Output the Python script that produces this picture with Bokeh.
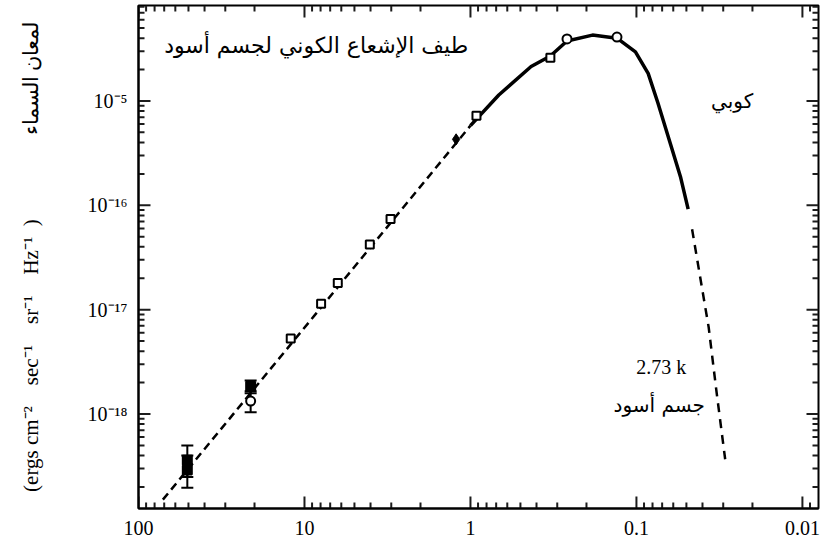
from bokeh.plotting import figure
from bokeh.models import (Range1d, FixedTicker, Label, Whisker,
                          ColumnDataSource, TeeHead)
from bokeh.embed import file_html
from bokeh.resources import INLINE

# ---- tick values and labels ----
x_ticks = [100, 10, 1, 0.1, 0.01]
x_labels = ["100", "10", "1", "0.1", "0.01"]
y_ticks = [1e-18, 1e-17, 1e-16, 1e-15]
y_labels = ["10⁻¹⁸", "10⁻¹⁷", "10⁻¹⁶", "10⁻⁵"]

# ---- texts ----
title_text = "طيف الإشعاع الكوني لجسم أسود"
cobe_text = "كوبي"
temp_text = "2.73 k"
bb_text = "جسم أسود"
ylabel_en = "(ergs cm⁻²\u2003sec⁻¹\u2003sr⁻¹\u2003Hz⁻¹\u2002)"
ylabel_ar = "لمعان السماء"

# ---- data (wavelength cm, brightness) ----
rj_x = [71.3, 8.5, 1.0]
rj_y = [1.51e-19, 9.2e-18, 5.8e-16]

cobe_x = [1.0, 0.675, 0.431, 0.33, 0.262, 0.184, 0.131, 0.1014, 0.085, 0.0743, 0.0623, 0.0543, 0.0488]
cobe_y = [5.8e-16, 1.14e-15, 2.14e-15, 2.7e-15, 3.76e-15, 4.28e-15, 4.0e-15, 2.96e-15, 1.84e-15, 9.6e-16, 3.85e-16, 1.88e-16, 9.2e-17]

wien_x = [0.0462, 0.0415, 0.0367, 0.033, 0.0292]
wien_y = [5.9e-17, 2.14e-17, 6.76e-18, 1.68e-18, 3.68e-19]

sq_x = [12.1, 7.94, 6.3, 4.04, 3.03, 0.92, 0.33]
sq_y = [5.3e-18, 1.14e-17, 1.8e-17, 4.2e-17, 7.4e-17, 7.2e-16, 2.6e-15]

fill_x = [1.22]
fill_y = [4.29e-16]

circ_x = [0.262, 0.131]
circ_y = [3.93e-15, 4.1e-15]

err_x = [50.8, 50.8, 21.1, 21.1]
err_y = [3.6e-19, 2.9e-19, 1.84e-18, 1.33e-18]
err_lo = [2.49e-19, 1.96e-19, 1.58e-18, 1.04e-18]
err_hi = [5.0e-19, 4.0e-19, 2.09e-18, 1.65e-18]
err_marker = ["square", "square", "square", "circle"]
err_fill = ["black", "black", "black", "white"]

# ---- axis extents ----
X_LEFT, X_RIGHT = 100, 0.008
Y_BOTTOM, Y_TOP = 10 ** -18.906, 10 ** -14.085

W, H = 821, 539
BL, BR, BT, BB = 138, 3, 5, 31
p = figure(width=W, height=H, x_axis_type="log", y_axis_type="log",
           x_range=Range1d(X_LEFT, X_RIGHT), y_range=Range1d(Y_BOTTOM, Y_TOP),
           output_backend="svg", toolbar_location=None,
           min_border_left=BL, min_border_right=BR, min_border_top=BT, min_border_bottom=BB)
p.outline_line_color = "black"
p.outline_line_width = 2
p.xgrid.visible = False
p.ygrid.visible = False

def minor(lo_exp, hi_exp, lo, hi):
    out = []
    for e in range(lo_exp, hi_exp):
        for k in range(2, 10):
            v = k * 10.0 ** e
            if lo < v < hi:
                out.append(v)
    return out

x_minor = minor(-3, 2, X_RIGHT, X_LEFT)
y_minor = minor(-19, -14, Y_BOTTOM, Y_TOP)

serif = "Liberation Serif"
TICK_COLOR = "#1c1c1c"

def style(ax):
    ax.axis_line_color = "black"
    ax.axis_line_width = 2
    ax.major_tick_line_color = None
    ax.minor_tick_line_color = None
    ax.major_tick_in = 0
    ax.major_tick_out = 0
    ax.minor_tick_in = 0
    ax.minor_tick_out = 0
    ax.major_label_text_font = serif
    ax.major_label_text_font_size = "20px"
    ax.major_label_text_color = "black"

xa = p.xaxis[0]
xa.ticker = FixedTicker(ticks=x_ticks, minor_ticks=[])
style(xa)
xa.major_label_overrides = dict(zip(x_ticks, x_labels))
xa.major_label_standoff = 12

ya = p.yaxis[0]
ya.ticker = FixedTicker(ticks=y_ticks, minor_ticks=[])
style(ya)
ya.major_label_overrides = dict(zip(y_ticks, y_labels))
ya.major_label_standoff = 11
ya.axis_label = ylabel_en + "\u2003\u2003\u2003\u2003" + ylabel_ar
ya.axis_label_text_font = serif
ya.axis_label_text_font_size = "21px"
ya.axis_label_text_font_style = "normal"
ya.axis_label_text_color = "black"
ya.axis_label_standoff = 42

# ---- inward tick marks on all four sides (pixel lengths converted to decades) ----
x_px_per_dec = (W - BL - BR) / (2 - (-2.097))
y_px_per_dec = (H - BT - BB - 4) / 4.821
MAJ, MIN = 12, 6

def xtick_marks(xs, length):
    f = 10 ** (length / y_px_per_dec)
    n = len(xs)
    p.segment(x0=list(xs), y0=[Y_BOTTOM] * n, x1=list(xs), y1=[Y_BOTTOM * f] * n,
              line_color=TICK_COLOR, line_width=2)
    p.segment(x0=list(xs), y0=[Y_TOP] * n, x1=list(xs), y1=[Y_TOP / f] * n,
              line_color=TICK_COLOR, line_width=2)

def ytick_marks(ys, length):
    f = 10 ** (length / x_px_per_dec)
    n = len(ys)
    p.segment(x0=[X_LEFT] * n, y0=list(ys), x1=[X_LEFT / f] * n, y1=list(ys),
              line_color=TICK_COLOR, line_width=2)
    p.segment(x0=[X_RIGHT] * n, y0=list(ys), x1=[X_RIGHT * f] * n, y1=list(ys),
              line_color=TICK_COLOR, line_width=2)

xtick_marks(x_ticks, MAJ)
xtick_marks(x_minor, MIN)
ytick_marks(y_ticks, MAJ)
ytick_marks(y_minor, MIN)

# ---- curves ----
p.line(rj_x, rj_y, line_color="black", line_width=2.5, line_dash="8 5")
p.line(cobe_x, cobe_y, line_color="black", line_width=3.5)
p.line(wien_x, wien_y, line_color="black", line_width=2.5, line_dash="9 7")

# ---- error bars ----
src = ColumnDataSource(dict(x=err_x, y=err_y, lo=err_lo, hi=err_hi,
                            m=err_marker, f=err_fill))
p.add_layout(Whisker(source=src, base="x", lower="lo", upper="hi", dimension="height",
                     line_color="black", line_width=2,
                     upper_head=TeeHead(size=12, line_width=2, line_color="black"),
                     lower_head=TeeHead(size=12, line_width=2, line_color="black")))
p.scatter("x", "y", source=src, marker="m", size=9, fill_color="f",
          line_color="black", line_width=2)

# ---- markers ----
p.scatter(sq_x, sq_y, marker="square", size=8, fill_color="white",
          line_color="black", line_width=2)
p.scatter(fill_x, fill_y, marker="diamond", size=11, fill_color="black",
          line_color="black", line_width=1)
p.scatter(circ_x, circ_y, marker="circle", size=9, fill_color="white",
          line_color="black", line_width=2)

# ---- labels ----
arabic = "DejaVu Sans"
p.add_layout(Label(x=8.5, y=3.37e-15, text=title_text, text_font=arabic,
                   text_font_size="22px", text_align="center", text_baseline="middle",
                   text_color="black"))
p.add_layout(Label(x=0.0265, y=1.0e-15, text=cobe_text, text_font=arabic,
                   text_font_size="20px", text_align="center", text_baseline="middle",
                   text_color="black"))
p.add_layout(Label(x=0.0709, y=2.82e-18, text=temp_text, text_font=serif,
                   text_font_size="20px", text_align="center", text_baseline="middle",
                   text_color="black"))
p.add_layout(Label(x=0.0729, y=1.21e-18, text=bb_text, text_font=arabic,
                   text_font_size="20px", text_align="center", text_baseline="middle",
                   text_color="black"))

open("out.html", "w").write(file_html(p, INLINE))
